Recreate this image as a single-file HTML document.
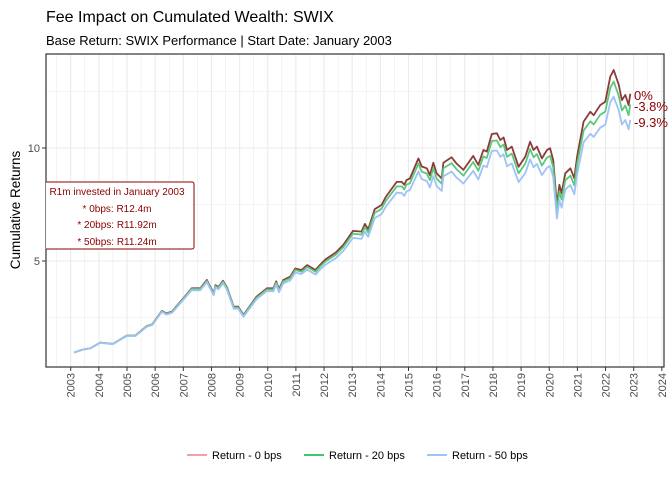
<!DOCTYPE html>
<html><head><meta charset="utf-8"><style>
body{margin:0;background:#fff;font-family:"Liberation Sans",sans-serif;}
svg text{font-family:"Liberation Sans",sans-serif;}
</style></head><body>
<svg id="chart" width="672" height="480" viewBox="0 0 672 480" xmlns="http://www.w3.org/2000/svg">
<text x="46" y="22" font-size="16" fill="#000">Fee Impact on Cumulated Wealth: SWIX</text>
<text x="46" y="45" font-size="13" fill="#000">Base Return: SWIX Performance | Start Date: January 2003</text>
<g id="grid"></g>
<g id="series" clip-path="url(#pc)"></g>
<defs><clipPath id="pc"><rect x="46" y="54" width="618" height="313"/></clipPath></defs>
<rect x="46" y="54" width="618" height="313" fill="none" stroke="#333" stroke-width="1.2"/>
<g id="axes"></g>
<text transform="translate(20,210) rotate(-90)" text-anchor="middle" font-size="13.5" fill="#000">Cumulative Returns</text>
<g clip-path="url(#pc)">
<g>
<rect x="40" y="182" width="154" height="67" rx="2" fill="#fff" stroke="#8b0000" stroke-width="1"/>
<text x="117" y="195" text-anchor="middle" font-size="10" fill="#8b0000">R1m invested in January 2003</text>
<text x="117" y="212" text-anchor="middle" font-size="10" fill="#8b0000">* 0bps: R12.4m</text>
<text x="117" y="228" text-anchor="middle" font-size="10" fill="#8b0000">* 20bps: R11.92m</text>
<text x="117" y="245" text-anchor="middle" font-size="10" fill="#8b0000">* 50bps: R11.24m</text>
</g></g>
<text x="634" y="100" font-size="13" fill="#8b0000">0%</text>
<text x="634" y="111" font-size="13" fill="#8b0000">-3.8%</text>
<text x="634" y="127" font-size="13" fill="#8b0000">-9.3%</text>
<g>
<line x1="187" y1="455" x2="207" y2="455" stroke="#f8a0a0" stroke-width="2"/>
<text x="212" y="459" font-size="11" fill="#000">Return - 0 bps</text>
<line x1="304" y1="455" x2="324" y2="455" stroke="#3cc870" stroke-width="2"/>
<text x="329" y="459" font-size="11" fill="#000">Return - 20 bps</text>
<line x1="427" y1="455" x2="447" y2="455" stroke="#9ec3f7" stroke-width="2"/>
<text x="452" y="459" font-size="11" fill="#000">Return - 50 bps</text>
</g>
</svg>
<script>
const dates=[2003.12,2003.4,2003.7,2004.05,2004.5,2004.99,2005.3,2005.7,2005.9,2006.24,2006.4,2006.6,2007.0,2007.3,2007.6,2007.84,2008.08,2008.14,2008.25,2008.41,2008.55,2008.79,2008.95,2009.14,2009.6,2009.97,2010.2,2010.3,2010.4,2010.55,2010.8,2010.98,2011.2,2011.4,2011.7,2011.85,2012.05,2012.41,2012.68,2013.03,2013.33,2013.45,2013.57,2013.8,2014.04,2014.2,2014.58,2014.76,2014.85,2014.93,2015.05,2015.35,2015.47,2015.65,2015.76,2015.88,2016.0,2016.18,2016.24,2016.53,2016.7,2016.95,2017.13,2017.3,2017.48,2017.66,2017.78,2017.96,2018.14,2018.26,2018.38,2018.5,2018.67,2018.91,2019.15,2019.32,2019.44,2019.56,2019.74,2019.92,2020.03,2020.14,2020.27,2020.36,2020.44,2020.57,2020.75,2020.89,2020.99,2021.22,2021.46,2021.58,2021.81,2021.99,2022.17,2022.29,2022.47,2022.58,2022.70,2022.82,2022.88];
const ret0=[0.95,1.07,1.14,1.39,1.33,1.70,1.70,2.12,2.20,2.79,2.68,2.76,3.35,3.79,3.79,4.16,3.57,3.93,3.85,4.13,3.84,2.98,2.98,2.61,3.42,3.79,3.79,4.10,3.75,4.16,4.31,4.67,4.60,4.82,4.60,4.82,5.07,5.37,5.71,6.33,6.30,6.64,6.40,7.29,7.48,7.85,8.50,8.50,8.37,8.58,8.65,9.54,9.18,9.10,8.80,9.35,8.88,8.65,9.35,9.59,9.32,9.03,9.35,9.65,9.25,9.91,9.84,10.62,10.65,10.35,10.47,9.91,10.06,9.17,9.62,10.28,9.91,10.06,9.54,9.91,9.99,9.47,7.48,8.37,8.00,8.88,9.10,8.66,9.62,11.17,11.60,11.45,11.90,12.05,13.16,13.45,12.79,12.12,12.35,11.90,12.40];
const ret20=[0.95,1.07,1.14,1.39,1.33,1.69,1.69,2.11,2.19,2.77,2.66,2.74,3.32,3.76,3.76,4.12,3.53,3.89,3.81,4.09,3.80,2.95,2.94,2.58,3.37,3.74,3.74,4.04,3.69,4.10,4.24,4.60,4.52,4.74,4.52,4.74,4.98,5.27,5.60,6.21,6.17,6.50,6.26,7.13,7.31,7.67,8.30,8.30,8.17,8.38,8.44,9.31,8.95,8.87,8.58,9.11,8.65,8.42,9.10,9.33,9.07,8.78,9.09,9.38,8.99,9.63,9.56,10.31,10.33,10.04,10.15,9.61,9.75,8.88,9.31,9.95,9.59,9.73,9.22,9.58,9.65,9.15,7.22,8.08,7.72,8.57,8.78,8.35,9.28,10.77,11.18,11.04,11.47,11.61,12.67,12.94,12.31,11.66,11.88,11.45,11.92];
const ret50=[0.95,1.07,1.14,1.38,1.32,1.68,1.68,2.09,2.17,2.75,2.63,2.71,3.28,3.71,3.70,4.06,3.48,3.83,3.75,4.02,3.73,2.89,2.89,2.53,3.31,3.67,3.66,3.96,3.62,4.01,4.14,4.49,4.42,4.62,4.40,4.61,4.84,5.12,5.44,6.02,5.98,6.30,6.07,6.90,7.07,7.42,8.02,8.01,7.88,8.08,8.14,8.96,8.62,8.54,8.25,8.76,8.32,8.10,8.75,8.96,8.70,8.43,8.72,8.99,8.61,9.22,9.15,9.87,9.89,9.61,9.72,9.19,9.32,8.49,8.89,9.50,9.15,9.29,8.80,9.13,9.20,8.72,6.88,7.70,7.36,8.17,8.36,7.95,8.83,10.25,10.63,10.49,10.90,11.03,12.03,12.27,11.66,11.04,11.24,10.83,11.24];
const yTicks=[5,10];
const xTicks=[2003,2004,2005,2006,2007,2008,2009,2010,2011,2012,2013,2014,2015,2016,2017,2018,2019,2020,2021,2022,2023,2024];
const NS='http://www.w3.org/2000/svg';
const X=t=>70.7+(t-2003)*28.15;
const Y=v=>374-v*22.6;
function mk(tag,attrs,parent){const e=document.createElementNS(NS,tag);for(const k in attrs)e.setAttribute(k,attrs[k]);parent.appendChild(e);return e;}
const grid=document.getElementById('grid'),axes=document.getElementById('axes'),ser=document.getElementById('series');
mk('rect',{x:46,y:54,width:618,height:313,fill:'#fff'},grid);
for(let v=2.5;v<14.2;v+=2.5){const l=mk('line',{x1:46,x2:664,y1:Y(v),y2:Y(v),stroke:'#ebebeb','stroke-width':(v%5===0)?1.1:0.6},grid);}
for(let t=2002.5;t<=2024.5;t+=0.5){const x=X(t);if(x<46||x>664)continue;const l=mk('line',{x1:x,x2:x,y1:54,y2:367,stroke:'#ebebeb','stroke-width':(t%1===0)?1.1:0.6},grid);}
yTicks.forEach(v=>{const y=Y(v);mk('line',{x1:42,x2:46,y1:y,y2:y,stroke:'#333'},axes);const t=mk('text',{x:40,y:y+4,'text-anchor':'end','font-size':11,fill:'#4d4d4d'},axes);t.textContent=v;});
xTicks.forEach(v=>{const x=X(v);mk('line',{x1:x,x2:x,y1:367,y2:371,stroke:'#333'},axes);const t=mk('text',{transform:`translate(${x+4},373) rotate(-90)`,'text-anchor':'end','font-size':11,fill:'#4d4d4d'},axes);t.textContent=v;});
[[ret0,'#8c3b3b','line-0bps'],[ret20,'#5cc87a','line-20bps'],[ret50,'#9ec3f7','line-50bps']].forEach(([arr,c,n])=>{const d=arr.map((v,i)=>(i?'L':'M')+X(dates[i]).toFixed(1)+','+Y(v).toFixed(1)).join('');const p=mk('path',{d:d,fill:'none',stroke:c,'stroke-width':1.8,'stroke-linejoin':'round'},ser);});
</script>
</body></html>
